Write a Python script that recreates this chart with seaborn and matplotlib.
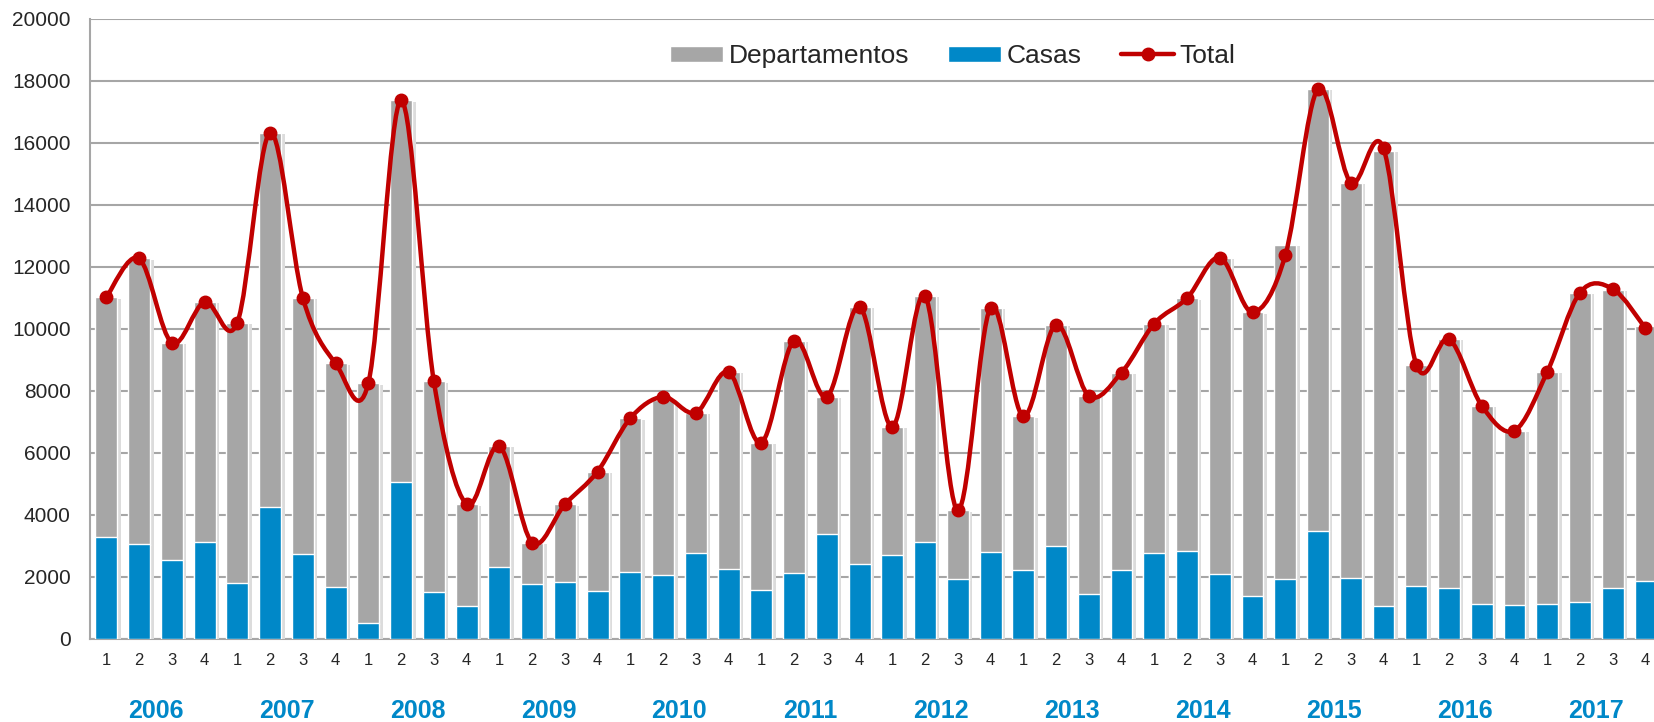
import matplotlib
matplotlib.use("Agg")
import matplotlib.pyplot as plt
from matplotlib.path import Path
from matplotlib.patches import PathPatch, Patch
from matplotlib.lines import Line2D
import matplotlib.patheffects as pe
import matplotlib.transforms as mtransforms
import numpy as np
import pandas as pd
import seaborn as sns

years = ['2006', '2007', '2008', '2009', '2010', '2011', '2012', '2013',
         '2014', '2015', '2016', '2017']
quarters = ['1', '2', '3', '4']

casas = [3300, 3050, 2560, 3120, 1810, 4270, 2750, 1670,
         510, 5060, 1530, 1060, 2330, 1780, 1830, 1560,
         2160, 2050, 2770, 2250, 1580, 2130, 3390, 2410,
         2710, 3120, 1920, 2800, 2220, 2990, 1460, 2220,
         2770, 2830, 2080, 1380, 1930, 3480, 1960, 1060,
         1700, 1640, 1120, 1090, 1120, 1190, 1640, 1860]

departamentos = [7720, 9220, 6990, 7750, 8390, 12060, 8250, 7220,
                 7740, 12310, 6780, 3280, 3890, 1330, 2510, 3840,
                 4960, 5650, 4530, 6360, 4750, 7490, 4420, 8310,
                 4130, 7940, 2230, 7880, 4960, 7140, 6380, 6370,
                 7400, 8160, 10220, 9160, 10780, 14260, 12760, 14690,
                 7130, 8030, 6400, 5630, 7490, 9980, 9620, 8220]

total = [11020, 12270, 9550, 10870, 10200, 16330, 11000, 8890,
         8250, 17370, 8310, 4340, 6220, 3110, 4340, 5400,
         7120, 7810, 7300, 8610, 6330, 9620, 7810, 10720,
         6840, 11060, 4150, 10680, 7180, 10130, 7840, 8590,
         10170, 10990, 12300, 10540, 12370, 17740, 14720, 15820,
         8850, 9670, 7520, 6720, 8610, 11170, 11290, 10020]

gris = '#a6a6a6'
azul = '#0088c8'
rojo = '#c00000'

periodos = [f'{y}-{q}' for y in years for q in quarters]
df = pd.DataFrame({'periodo': periodos, 'casas': casas,
                   'departamentos': departamentos, 'total': total})
df['apilado'] = df['casas'] + df['departamentos']

sns.set_style('white')
plt.rcParams['font.family'] = ['Liberation Sans', 'DejaVu Sans']

fig = plt.figure(figsize=(16.54, 7.22), dpi=100)
ax = fig.add_axes([0.0544, 0.115, 0.9456, 0.859])

sns.barplot(data=df, x='periodo', y='apilado', order=periodos, color=gris,
            saturation=1, width=0.67, ax=ax, zorder=2)
sns.barplot(data=df, x='periodo', y='casas', order=periodos, color=azul,
            saturation=1, width=0.67, ax=ax, zorder=3)

# soft shadow next to the bars
sombra = [pe.SimplePatchShadow(offset=(2.5, -1), shadow_rgbFace='#dcdcdc', alpha=1.0),
          pe.Normal()]
for p in ax.patches:
    p.set_path_effects(sombra)

# smooth line (Catmull-Rom bezier through the points, like Excel)
xs = np.arange(len(total), dtype=float)
ys = np.array(total, dtype=float)
pts = np.column_stack([xs, ys])
ext = np.vstack([pts[0], pts, pts[-1]])
verts = [pts[0]]
codes = [Path.MOVETO]
for i in range(len(pts) - 1):
    p0, p1, p2, p3 = ext[i], ext[i + 1], ext[i + 2], ext[i + 3]
    c1 = p1 + (p2 - p0) / 6.0
    c2 = p2 - (p3 - p1) / 6.0
    verts += [c1, c2, p2]
    codes += [Path.CURVE4] * 3
ax.add_patch(PathPatch(Path(verts, codes), facecolor='none', edgecolor=rojo,
                       lw=3.2, zorder=4, capstyle='round', joinstyle='round'))
ax.plot(xs, ys, 'o', color=rojo, markersize=9, zorder=5)

ax.set_ylim(0, 20000)
ax.set_xlim(-0.5, 47.26)
ax.set_yticks(range(0, 20001, 2000))
ax.tick_params(axis='y', labelsize=15, length=0, pad=14)
ax.set_xticks(range(len(periodos)))
ax.set_xticklabels(quarters * len(years), fontsize=12)
ax.tick_params(axis='x', length=0, pad=10)
ax.set_xlabel('')
ax.set_ylabel('')
ax.yaxis.grid(True, color='#a6a6a6', lw=1.5, zorder=0)
ax.set_axisbelow(True)
for s in ['top', 'right']:
    ax.spines[s].set_visible(False)
for s in ['left', 'bottom']:
    ax.spines[s].set_color('#a6a6a6')
    ax.spines[s].set_linewidth(1.5)

trans = mtransforms.blended_transform_factory(ax.transData, ax.transAxes)
for k, y in enumerate(years):
    ax.text(4 * k + 1.5, -0.116, y, transform=trans, ha='center', va='center',
            fontsize=18, fontweight='bold', color=azul)

handles = [Patch(facecolor=gris, label='Departamentos'),
           Patch(facecolor=azul, label='Casas'),
           Line2D([], [], color=rojo, lw=3.2, marker='o', markersize=9, label='Total')]
fig.legend(handles=handles, loc='center', bbox_to_anchor=(0.576, 0.922),
           ncol=3, frameon=False, fontsize=19, handlelength=2.0,
           handleheight=0.6, handletextpad=0.2, columnspacing=1.5)

fig.savefig('out.png', dpi=100)
